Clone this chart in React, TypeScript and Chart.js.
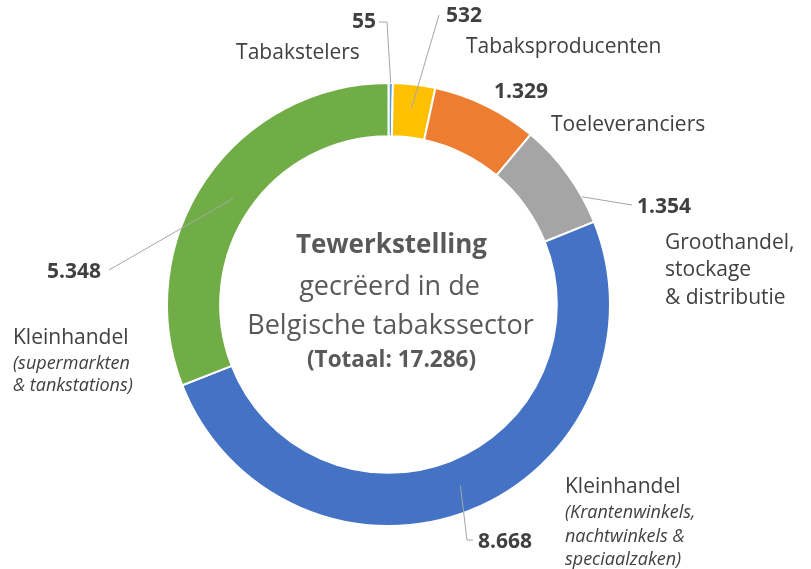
import React, { useEffect, useRef } from 'react';
import { Chart, registerables } from 'chart.js';

Chart.register(...registerables);

const categories = [
  'Tabakstelers',
  'Tabaksproducenten',
  'Toeleveranciers',
  'Groothandel, stockage & distributie',
  'Kleinhandel (Krantenwinkels, nachtwinkels & speciaalzaken)',
  'Kleinhandel (supermarkten & tankstations)',
];
const values = [55, 532, 1329, 1354, 8668, 5348];
const colors = ['#5B9BD5', '#FFC000', '#ED7D31', '#A5A5A5', '#4472C4', '#70AD47'];

const centerLines = ['Tewerkstelling', 'gecrëerd in de', 'Belgische tabakssector'];

const FONT = '"Open Sans", "DejaVu Sans", sans-serif';

type Line = { text: string; italic?: boolean; small?: boolean };
type LabelDef = {
  vx: number; vy: number; valign: CanvasTextAlign;
  nx: number; ny: number; nalign: CanvasTextAlign; lines: Line[]; lh: number[];
  leader?: { frac: number; rFrac: number; via: [number, number][] };
};

const labelDefs: LabelDef[] = [
  {
    vx: 376, vy: 22, valign: 'right',
    nx: 298, ny: 53, nalign: 'center', lines: [{ text: 'Tabakstelers' }], lh: [0],
    leader: { frac: 0.5, rFrac: 1, via: [[387, 22], [379, 22]] },
  },
  {
    vx: 446, vy: 16, valign: 'left',
    nx: 466, ny: 47, nalign: 'left', lines: [{ text: 'Tabaksproducenten' }], lh: [0],
    leader: { frac: 0.5, rFrac: 0.55, via: [[439, 15]] },
  },
  {
    vx: 494, vy: 92, valign: 'left',
    nx: 551, ny: 125, nalign: 'left', lines: [{ text: 'Toeleveranciers' }], lh: [0],
  },
  {
    vx: 637, vy: 207, valign: 'left',
    nx: 665, ny: 243, nalign: 'left',
    lines: [{ text: 'Groothandel,' }, { text: 'stockage' }, { text: '& distributie' }], lh: [0, 27, 55],
    leader: { frac: 0.745, rFrac: 1, via: [[632, 205]] },
  },
  {
    vx: 478, vy: 542, valign: 'left',
    nx: 565, ny: 487, nalign: 'left',
    lines: [
      { text: 'Kleinhandel' },
      { text: '(Krantenwinkels,', italic: true, small: true },
      { text: 'nachtwinkels &', italic: true, small: true },
      { text: 'speciaalzaken)', italic: true, small: true },
    ],
    lh: [0, 26, 50, 73],
    leader: { frac: 0.5, rFrac: 0.5, via: [[467, 540], [473, 540]] },
  },
  {
    vx: 101, vy: 272, valign: 'right',
    nx: 13, ny: 338, nalign: 'left',
    lines: [
      { text: 'Kleinhandel' },
      { text: '(supermarkten', italic: true, small: true },
      { text: '& tankstations)', italic: true, small: true },
    ],
    lh: [0, 26, 48],
    leader: { frac: 0.5, rFrac: 0.37, via: [[109, 270]] },
  },
];

function fmt(n: number): string {
  return String(n).replace(/\B(?=(\d{3})+(?!\d))/g, '.');
}

const labelPlugin = {
  id: 'labelPlugin',
  afterDraw(chart: any) {
    const ctx: CanvasRenderingContext2D = chart.ctx;
    const meta = chart.getDatasetMeta(0);
    const total = values.reduce((a, b) => a + b, 0);
    ctx.save();
    // leader lines
    meta.data.forEach((arc: any, i: number) => {
      const d = labelDefs[i];
      if (!d || !d.leader) return;
      const p = arc.getProps(['x', 'y', 'startAngle', 'endAngle', 'innerRadius', 'outerRadius'], true);
      const a = p.startAngle + (p.endAngle - p.startAngle) * d.leader.frac;
      const r = p.innerRadius + (p.outerRadius - p.innerRadius) * d.leader.rFrac;
      const x0 = p.x + r * Math.cos(a);
      const y0 = p.y + r * Math.sin(a);
      ctx.beginPath();
      ctx.strokeStyle = '#A6A6A6';
      ctx.lineWidth = 1;
      ctx.moveTo(x0, y0);
      d.leader.via.forEach(([x, y]) => ctx.lineTo(x, y));
      ctx.stroke();
    });
    // labels
    ctx.textBaseline = 'middle';
    labelDefs.forEach((d, i) => {
      ctx.fillStyle = '#404040';
      ctx.font = `bold 21px ${FONT}`;
      ctx.textAlign = d.valign;
      ctx.fillText(fmt(values[i]), d.vx, d.vy);
      ctx.textAlign = d.nalign;
      d.lines.forEach((ln, j) => {
        ctx.font = `${ln.italic ? 'italic ' : ''}${ln.small ? 18 : 21}px ${FONT}`;
        ctx.fillText(ln.text, d.nx, d.ny + d.lh[j]);
      });
    });
    // center text
    const cx = meta.data[0].x;
    const cy = meta.data[0].y;
    ctx.fillStyle = '#595959';
    ctx.textAlign = 'center';
    ctx.font = `bold 26px ${FONT}`;
    ctx.fillText(centerLines[0], cx + 3, cy - 59);
    ctx.font = `27px ${FONT}`;
    ctx.fillText(centerLines[1], cx + 1, cy - 17);
    ctx.fillText(centerLines[2], cx + 2, cy + 22);
    ctx.font = `bold 22.5px ${FONT}`;
    ctx.fillText(`(Totaal: ${fmt(total)})`, cx + 3, cy + 56);
    ctx.restore();
  },
};

export default function App() {
  const ref = useRef<HTMLCanvasElement | null>(null);
  useEffect(() => {
    if (!ref.current) return;
    const chart = new Chart(ref.current, {
      type: 'doughnut',
      data: {
        labels: categories,
        datasets: [
          {
            data: values,
            backgroundColor: colors,
            borderColor: '#FFFFFF',
            borderWidth: 2,
          },
        ],
      },
      options: {
        responsive: false,
        animation: false,
        cutout: '76%',
        layout: { padding: { left: 166, right: 200, top: 82, bottom: 42 } },
        plugins: {
          legend: { display: false },
          tooltip: { enabled: false },
        },
      },
      plugins: [labelPlugin],
    });
    return () => chart.destroy();
  }, []);
  return (
    <div style={{ position: 'absolute', left: 0, top: 0, width: 811, height: 569, background: '#fff' }}>
      <canvas ref={ref} width={811} height={569} />
    </div>
  );
}
